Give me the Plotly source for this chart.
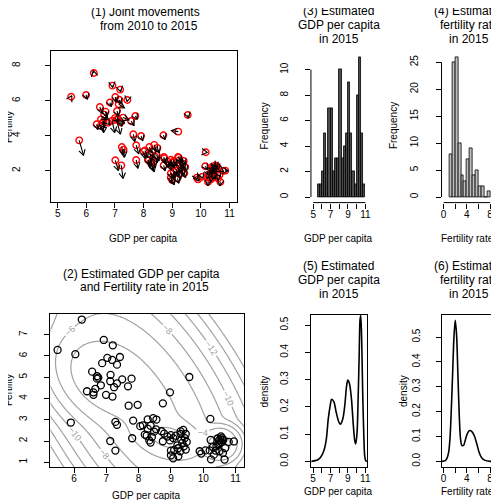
import numpy as np
import plotly.graph_objects as go

# ---------------- data ----------------
gdp15 = [6.24,5.49,6.04,5.90,6.92,7.20,7.03,7.18,7.42,6.87,7.33,6.56,6.71,6.71,6.75,7.13,7.49,7.78,7.12,7.33,
         7.24,6.83,7.67,6.66,6.40,6.60,6.60,6.99,7.19,9.57,7.69,7.97,8.75,8.97,7.28,7.33,7.83,7.12,7.28,7.80,
         10.22,8.45,8.28,8.55,8.13,8.28,8.54,9.38,8.05,8.37,8.19,8.41,8.33,8.71,8.79,8.89,8.97,9.07,9.15,9.30,
         9.32,9.43,9.46,9.30,10.23,10.53,10.58,10.48,10.62,10.45,10.55,8.48,9.00,8.25,9.00,9.10,9.22,9.29,9.35,9.20,
         9.40,9.46,9.49,8.37,8.75,9.89,10.07,10.20,10.38,10.41,10.51,10.68,10.79,10.95,10.50,10.46,10.56,10.30,9.23,9.07,
         9.00,9.94,10.24,10.33,10.61,10.66]
fert15 = [7.71,6.28,6.08,2.87,6.75,6.50,5.91,5.81,5.95,5.66,5.59,5.26,5.05,4.93,4.98,5.11,4.90,4.93,4.81,4.71,
          4.53,4.62,4.57,4.45,4.34,4.29,4.17,4.17,4.09,5.01,3.66,3.70,3.77,4.29,2.90,2.76,2.96,2.00,1.55,2.13,
          3.04,3.08,3.02,3.01,2.74,2.58,2.55,2.52,2.70,2.72,2.30,2.19,2.03,2.46,2.35,2.21,2.03,2.14,2.25,2.33,
          2.07,2.14,2.33,2.45,2.05,2.07,2.14,2.02,2.05,2.12,2.22,2.44,2.28,2.25,1.55,1.58,1.66,1.52,1.91,1.80,
          1.75,1.60,1.96,1.93,1.99,1.52,1.56,1.56,1.55,1.75,1.91,1.67,1.96,1.98,1.52,1.85,1.95,1.72,1.28,1.19,
          1.33,1.41,1.14,1.36,1.44,1.13]
gdp10 = [6.26,5.47,5.99,5.75,6.91,7.18,7.01,7.15,7.43,6.82,7.13,6.47,6.67,6.51,6.62,7.07,7.28,7.71,7.00,7.10,
         7.20,6.76,7.56,6.55,6.36,6.50,6.60,6.90,7.05,9.54,7.64,7.91,8.69,9.21,7.24,7.30,7.74,7.01,7.22,7.74,
         10.17,8.37,8.20,8.48,8.05,8.22,8.45,9.20,8.00,8.30,8.15,8.35,8.25,8.71,8.72,8.85,8.90,9.00,9.05,9.25,
         9.28,9.38,9.40,9.22,10.15,10.48,10.55,10.40,10.60,10.38,10.50,8.40,8.95,8.18,8.95,9.05,9.15,9.25,9.30,9.12,
         9.35,9.42,9.45,8.30,8.70,9.86,10.05,10.22,10.40,10.38,10.45,10.65,10.77,10.85,10.48,10.42,10.52,10.28,9.18,9.00,
         8.95,9.90,10.25,10.35,10.60,10.68]
fert10 = [7.58,6.22,6.32,3.73,6.86,6.63,6.21,6.05,6.04,5.89,5.79,5.64,5.37,4.93,5.20,5.41,5.03,5.12,5.00,4.95,
          4.75,4.74,4.84,4.70,4.65,4.55,4.80,4.85,4.90,5.18,4.08,3.98,4.02,4.23,3.35,3.20,3.45,2.59,2.30,2.61,
          3.05,3.47,3.35,3.30,3.16,2.95,2.90,2.78,3.10,3.10,2.62,2.55,2.45,2.78,2.70,2.50,2.35,2.45,2.55,2.60,
          2.35,2.40,2.55,2.75,2.25,2.15,2.25,2.10,2.15,2.20,2.30,2.80,2.62,2.60,1.85,1.95,2.00,1.80,2.15,2.10,
          2.00,1.85,2.20,2.30,2.30,1.60,1.65,1.60,1.60,1.85,1.98,1.75,1.98,2.00,1.62,1.90,2.00,1.80,1.55,1.45,
          1.60,1.50,1.35,1.50,1.55,1.35]

gdp_bin_left = [5.50,5.75,6.00,6.25,6.50,6.75,7.00,7.25,7.50,7.75,8.00,8.25,8.50,8.75,9.00,9.25,9.50,9.75,10.00,10.25,10.50,10.75]
gdp_counts   = [1,1,2,5,3,7,7,2,3,3,10,3,4,5,9,5,2,1,8,11,5,1]
fert_bin_left = [1.0,1.5,2.0,2.5,3.0,3.5,4.0,4.5,5.0,5.5,6.0,6.5,7.0,7.5]
fert_counts   = [8,25,26,10,4,3,7,9,4,5,2,2,0,1]

gdp_dens_x = [4.81,5.50,5.87,6.25,6.52,6.75,6.98,7.13,7.40,7.66,7.97,8.15,8.42,8.65,8.84,8.99,9.18,9.41,9.60,9.79,
              9.90,10.06,10.17,10.29,10.40,10.48,10.59,10.70,10.82,10.93,11.05,11.20]
gdp_dens_y = [0.0,0.005,0.015,0.040,0.080,0.156,0.206,0.228,0.218,0.180,0.144,0.136,0.156,0.206,0.273,0.298,0.286,0.230,0.144,0.076,
              0.064,0.107,0.218,0.378,0.520,0.535,0.440,0.255,0.107,0.021,0.002,0.0]
fert_dens_x = [-0.30,0.29,0.57,0.86,1.09,1.31,1.54,1.77,2.00,2.23,2.46,2.69,2.91,3.14,3.43,3.71,4.06,4.46,4.86,5.26,
               5.71,6.11,6.57,7.14,8.00,9.40]
fert_dens_y = [0.0,0.003,0.012,0.036,0.090,0.200,0.347,0.496,0.568,0.509,0.347,0.185,0.090,0.064,0.064,0.084,0.111,0.124,0.120,0.104,
               0.070,0.036,0.0135,0.004,0.0,0.0]

# estimated bivariate mixture (panel 2 contours): weight, mean, sd, correlation
mix_w   = [0.30, 0.28, 0.25, 0.17]
mix_mx  = [8.20, 6.95, 8.95, 10.50]
mix_my  = [3.80, 5.00, 2.15, 1.85]
mix_sx  = [0.90, 0.55, 0.45, 0.22]
mix_sy  = [1.80, 0.80, 0.40, 0.30]
mix_rho = [-0.60, -0.30, -0.30, 0.0]
contour_levels = [-16, -2, 2]

W, H = 499, 500
FONT = "Liberation Sans, Arial, sans-serif"

def xd(l, r):
    return [l / W, r / W]

def yd(t, b):
    return [1 - b / H, 1 - t / H]

P1 = (42, 230, 43.3, 194.3)
P2 = (41.7, 237.3, 306, 459)
P3 = (305, 362, 43.3, 194.6)
P4 = (436.9, 494, 43.3, 194.6)
P5 = (305, 362, 307, 459)
P6 = (436.9, 494, 307, 459)
R1x, R1y = [4.75, 11.25], [0.19, 8.82]

fig = go.Figure()

# ---------- panel 2: contours of estimated log-density ----------
gx = np.linspace(5.1, 11.4, 180)
gy = np.linspace(0.6, 8.1, 180)
GX, GY = np.meshgrid(gx, gy)
dens = np.zeros_like(GX)
for w, mx, my, sx, sy, r in zip(mix_w, mix_mx, mix_my, mix_sx, mix_sy, mix_rho):
    zx = (GX - mx) / sx
    zy = (GY - my) / sy
    m = (zx ** 2 + zy ** 2 - 2 * r * zx * zy) / (1 - r ** 2)
    dens += w * np.exp(-0.5 * m) / (2 * np.pi * sx * sy * np.sqrt(1 - r ** 2))
logd = np.log(dens)

fig.add_trace(go.Contour(x=gx, y=gy, z=logd, xaxis='x2', yaxis='y2',
                         contours=dict(start=contour_levels[0], end=contour_levels[1], size=contour_levels[2],
                                       coloring='lines', showlabels=True,
                                       labelfont=dict(size=9, color='#a0a0a0', family=FONT)),
                         colorscale=[[0, '#a0a0a0'], [1, '#a0a0a0']], showscale=False,
                         line=dict(width=1.2), hoverinfo='skip'))
fig.add_trace(go.Scatter(x=gdp15, y=fert15, mode='markers', xaxis='x2', yaxis='y2',
                         marker=dict(symbol='circle-open', size=7, color='black', line=dict(width=1.3))))

# ---------- panel 1: arrows from 2010 to 2015 ----------
kx = (P1[1] - P1[0]) / (R1x[1] - R1x[0])
ky = (P1[3] - P1[2]) / (R1y[1] - R1y[0])
ax_, ay_ = [], []
HL = 6.5
for a, b, c, d in zip(gdp10, fert10, gdp15, fert15):
    ang = np.arctan2((d - b) * ky, (c - a) * kx)
    h1x = c - HL * np.cos(ang + np.pi / 6) / kx
    h1y = d - HL * np.sin(ang + np.pi / 6) / ky
    h2x = c - HL * np.cos(ang - np.pi / 6) / kx
    h2y = d - HL * np.sin(ang - np.pi / 6) / ky
    ax_ += [a, c, None, h1x, c, h2x, None]
    ay_ += [b, d, None, h1y, d, h2y, None]
fig.add_trace(go.Scatter(x=gdp10, y=fert10, mode='markers', xaxis='x', yaxis='y',
                         marker=dict(symbol='circle-open', size=6.5, color='red', line=dict(width=1.4))))
fig.add_trace(go.Scatter(x=ax_, y=ay_, mode='lines', xaxis='x', yaxis='y',
                         line=dict(color='black', width=1.1), connectgaps=False))

# ---------- panel 3, 4: histograms ----------
fig.add_trace(go.Bar(x=[v + 0.125 for v in gdp_bin_left], y=gdp_counts, width=0.25, xaxis='x3', yaxis='y3',
                     marker=dict(color='#4d4d4d', line=dict(color='black', width=0.8))))
fig.add_trace(go.Bar(x=[v + 0.25 for v in fert_bin_left], y=fert_counts, width=0.5, xaxis='x4', yaxis='y4',
                     marker=dict(color='#bebebe', line=dict(color='black', width=0.8))))

# ---------- panel 5, 6: densities ----------
fig.add_trace(go.Scatter(x=gdp_dens_x, y=gdp_dens_y, mode='lines', xaxis='x5', yaxis='y5',
                         line=dict(color='black', width=1.6, shape='spline', smoothing=0.8)))
fig.add_trace(go.Scatter(x=fert_dens_x, y=fert_dens_y, mode='lines', xaxis='x6', yaxis='y6',
                         line=dict(color='black', width=1.6, shape='spline', smoothing=0.8)))

tickfont = dict(size=10, color='black', family=FONT)

def xax(dom, rng, vals, text, anchor, box=True, standoff=-3):
    return dict(domain=dom, range=rng, tickvals=vals, ticktext=text, anchor=anchor,
                showgrid=False, zeroline=False, ticks='outside', ticklen=5, tickwidth=1,
                tickcolor='black', showline=box, mirror=box, linecolor='black', linewidth=1,
                tickfont=tickfont, ticklabelstandoff=standoff, fixedrange=True)

def yax(dom, rng, vals, text, anchor, box=True, standoff=12):
    d = xax(dom, rng, vals, text, anchor, box, standoff)
    d['tickangle'] = -90
    return d

def s(v):
    return [str(x) for x in v]

d01 = [0, 0.1, 0.2, 0.3, 0.4, 0.5]
fig.update_layout(
    xaxis=xax(xd(P1[0], P1[1]), R1x, list(range(5, 12)), s(range(5, 12)), 'y'),
    yaxis=yax(yd(P1[2], P1[3]), R1y, [2, 4, 6, 8], s([2, 4, 6, 8]), 'x', standoff=21),
    xaxis2=xax(xd(P2[0], P2[1]), [5.264, 11.26], list(range(6, 12)), s(range(6, 12)), 'y2'),
    yaxis2=yax(yd(P2[2], P2[3]), [0.78, 7.97], list(range(1, 8)), s(range(1, 8)), 'x2', standoff=13),
    xaxis3=xax(xd(P3[0], P3[1]), [4.74, 11.23], list(range(5, 12)), ['5', '', '7', '', '9', '', '11'], 'y3', box=False),
    yaxis3=yax(yd(P3[2], P3[3]), [-0.44, 11.44], [0, 2, 4, 6, 8, 10], s([0, 2, 4, 6, 8, 10]), 'x3', box=False, standoff=13),
    xaxis4=xax(xd(P4[0], P4[1]), [-0.36, 9.36], [0, 2, 4, 6, 8], ['0', '', '4', '', '8'], 'y4', box=False),
    yaxis4=yax(yd(P4[2], P4[3]), [-1.04, 27.04], [0, 5, 10, 15, 20, 25], s([0, 5, 10, 15, 20, 25]), 'x4', box=False, standoff=14),
    xaxis5=xax(xd(P5[0], P5[1]), [4.76, 11.24], list(range(5, 12)), ['5', '', '7', '', '9', '', '11'], 'y5'),
    yaxis5=yax(yd(P5[2], P5[3]), [-0.0207, 0.537], d01, ['%.1f' % v for v in d01], 'x5', standoff=13),
    xaxis6=xax(xd(P6[0], P6[1]), [-0.36, 9.36], [0, 2, 4, 6, 8], ['0', '', '4', '', '8'], 'y6'),
    yaxis6=yax(yd(P6[2], P6[3]), [-0.0227, 0.589], d01, ['%.1f' % v for v in d01], 'x6', standoff=12),
)

shapes = [
    dict(type='line', xref='x3', yref='y3 domain', x0=5, x1=11, y0=0, y1=0, line=dict(color='black', width=1)),
    dict(type='line', xref='x3 domain', yref='y3', x0=0, x1=0, y0=0, y1=10, line=dict(color='black', width=1)),
    dict(type='line', xref='x4', yref='y4 domain', x0=0, x1=8, y0=0, y1=0, line=dict(color='black', width=1)),
    dict(type='line', xref='x4 domain', yref='y4', x0=0, x1=0, y0=0, y1=25, line=dict(color='black', width=1)),
]

def txt(t, cx, cy, size=10, angle=0, yanchor='middle'):
    return dict(text=t, x=cx / W, y=1 - cy / H, xref='paper', yref='paper', showarrow=False,
                xanchor='center', yanchor=yanchor, textangle=angle, borderpad=0,
                font=dict(size=size, color='black', family=FONT))

labels = [
    txt('(1) Joint movements', 138, 4, 12), txt('from 2010 to 2015', 141, 18, 12),
    txt('GDP per capita', 136, 231), txt('Fertility', -1, 119, angle=-90),
    txt('(2) Estimated GDP per capita', 134, 266, 12), txt('and Fertility rate in 2015', 137, 279, 12),
    txt('GDP per capita', 139, 487), txt('Fertility', -1, 382, angle=-90),
    txt('(3) Estimated', 333, 3, 12), txt('GDP per capita', 333, 16.5, 12), txt('in 2015', 333, 31, 12),
    txt('GDP per capita', 333, 231), txt('Frequency', 258, 118, angle=-90),
    txt('(4) Estimated', 465, 3, 12), txt('fertility rate', 465, 16.5, 12), txt('in 2015', 465, 31, 12),
    txt('Fertility rate', 463, 231), txt('Frequency', 388, 118, angle=-90),
    txt('(5) Estimated', 333, 258, 12), txt('GDP per capita', 333, 272, 12), txt('in 2015', 333, 286, 12),
    txt('GDP per capita', 333, 483), txt('density', 258, 383, angle=-90),
    txt('(6) Estimated', 465, 258, 12), txt('fertility rate', 465, 272, 12), txt('in 2015', 465, 286, 12),
    txt('Fertility rate', 463, 483), txt('density', 398, 383, angle=-90),
]

fig.update_layout(width=W, height=H, margin=dict(l=0, r=0, t=0, b=0),
                  paper_bgcolor='white', plot_bgcolor='white', showlegend=False,
                  shapes=shapes, annotations=labels,
                  font=dict(family=FONT, color='black'), bargap=0)

fig.write_html("out.html")
